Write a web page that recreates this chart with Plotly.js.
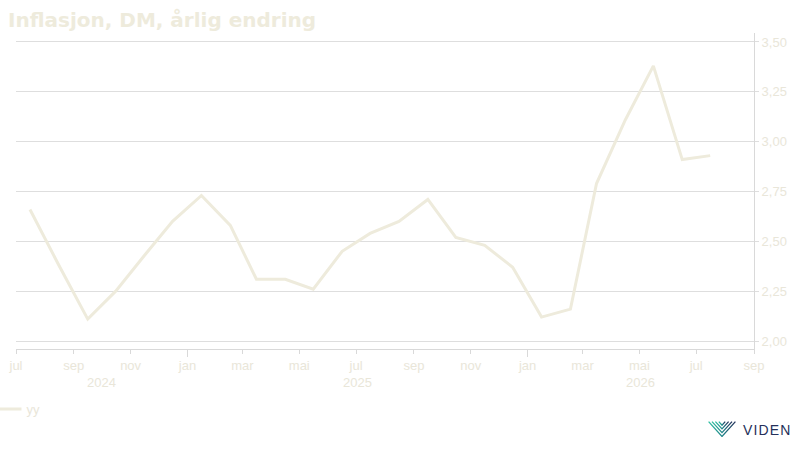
<!DOCTYPE html>
<html>
<head>
<meta charset="utf-8">
<script src="https://cdn.plot.ly/plotly-3.0.1.min.js"></script>
<style>
  html, body { margin: 0; padding: 0; background: #ffffff; }
  #chart { width: 800px; height: 450px; }
</style>
</head>
<body>
<div id="chart"></div>
<script>
// ---- data ----
const dates = [
  '2024-07-16','2024-08-16','2024-09-16','2024-10-16','2024-11-16','2024-12-16',
  '2025-01-16','2025-02-16','2025-03-16','2025-04-16','2025-05-16','2025-06-16',
  '2025-07-16','2025-08-16','2025-09-16','2025-10-16','2025-11-16','2025-12-16',
  '2026-01-16','2026-02-16','2026-03-16','2026-04-16','2026-05-16','2026-06-16',
  '2026-07-16'
];
const yy = [
  2.66, 2.38, 2.11, 2.25, 2.43, 2.60,
  2.73, 2.58, 2.31, 2.31, 2.26, 2.45,
  2.54, 2.60, 2.71, 2.52, 2.48, 2.37,
  2.12, 2.16, 2.79, 3.11, 3.38, 2.91,
  2.93
];
const seriesName = 'yy';
const xTickVals = [
  '2024-07-01','2024-09-01','2024-11-01','2025-01-01','2025-03-01','2025-05-01',
  '2025-07-01','2025-09-01','2025-11-01','2026-01-01','2026-03-01','2026-05-01',
  '2026-07-01','2026-09-01'
];
const xTickText = ['jul','sep','nov','jan','mar','mai','jul','sep','nov','jan','mar','mai','jul','sep'];
const yearTicks = ['2025-01-01','2026-01-01'];
const years = [2024, 2025, 2026];
const xRange = ['2024-07-01','2026-09-01'];
const yRange = [1.96, 3.545];
const yTickVals = [2.00, 2.25, 2.50, 2.75, 3.00, 3.25, 3.50];

// ---- styling ----
const lineColor = '#eeebdc';
const textColor = '#e9e6d9';
const gridColor = '#dedede';
const axisColor = '#d9d9d9';

// year labels centred on the visible part of each year
function yearMid(y) {
  const s = Math.max(new Date(y + '-01-01').getTime(), new Date(xRange[0]).getTime());
  const e = Math.min(new Date((y + 1) + '-01-01').getTime(), new Date(xRange[1]).getTime());
  return new Date((s + e) / 2).toISOString().slice(0, 10);
}
const yearAnnotations = years.map(y => ({
  x: yearMid(y), xref: 'x', y: -0.105, yref: 'paper',
  text: String(y), showarrow: false, xanchor: 'center', yanchor: 'middle',
  font: { family: 'Liberation Sans, Arial, sans-serif', size: 13, color: textColor }
}));

const logoSvg = "<svg xmlns='http://www.w3.org/2000/svg' width='56' height='32' viewBox='0 0 28 16'>" +
  "<defs><linearGradient id='g' x1='0' y1='0' x2='1' y2='0'>" +
  "<stop offset='0' stop-color='#2fc0a2'/><stop offset='0.55' stop-color='#1f7f86'/><stop offset='1' stop-color='#23305a'/>" +
  "</linearGradient></defs><g fill='none' stroke='url(#g)' stroke-width='1.3'>" +
  "<path d='M0.6 0.6 L14 15.4 L27.4 0.6'/><path d='M4 0.6 L14 11.6 L24 0.6'/>" +
  "<path d='M7.4 0.6 L14 7.8 L20.6 0.6'/><path d='M10.8 0.6 L14 4.2 L17.2 0.6'/></g></svg>";

const traces = [
  {
    x: dates, y: yy, name: seriesName, type: 'scatter', mode: 'lines',
    line: { color: lineColor, width: 3 }, hoverinfo: 'x+y'
  },
  {
    x: [xRange[0]], y: [yRange[0]], xaxis: 'x2', yaxis: 'y', type: 'scatter', mode: 'markers',
    marker: { opacity: 0 }, showlegend: false, hoverinfo: 'skip'
  }
];

const layout = {
  width: 800, height: 450,
  paper_bgcolor: '#ffffff', plot_bgcolor: '#ffffff',
  margin: { l: 16, r: 46, t: 33, b: 101, autoexpand: false },
  separators: ',.',
  title: {
    text: '<b>Inflasjon, DM, årlig endring</b>',
    x: 0.01, xref: 'container', xanchor: 'left',
    y: 0.955, yref: 'container', yanchor: 'middle',
    font: { family: 'DejaVu Sans, Verdana, sans-serif', size: 20, color: lineColor }
  },
  xaxis: {
    type: 'date', range: xRange,
    tickvals: xTickVals, ticktext: xTickText,
    ticks: 'outside', ticklen: 4, tickcolor: axisColor, tickwidth: 1,
    showgrid: false, zeroline: false,
    showline: true, linecolor: axisColor, linewidth: 1,
    tickfont: { family: 'Liberation Sans, Arial, sans-serif', size: 13, color: textColor }
  },
  xaxis2: {
    type: 'date', overlaying: 'x', matches: 'x', anchor: 'y',
    tickvals: yearTicks, ticks: 'outside', ticklen: 7, tickcolor: axisColor,
    showticklabels: false, showgrid: false, zeroline: false, showline: false
  },
  yaxis: {
    side: 'right', range: yRange,
    tickvals: yTickVals, tickformat: '.2f',
    ticks: 'outside', ticklen: 4, tickcolor: gridColor,
    showgrid: true, gridcolor: gridColor, gridwidth: 1,
    zeroline: false, showline: true, linecolor: axisColor, linewidth: 1,
    tickfont: { family: 'Liberation Sans, Arial, sans-serif', size: 13, color: textColor }
  },
  showlegend: true,
  legend: {
    x: -0.04, xanchor: 'left', y: -0.19, yanchor: 'middle',
    orientation: 'h', bgcolor: 'rgba(0,0,0,0)',
    font: { family: 'Liberation Sans, Arial, sans-serif', size: 13, color: textColor },
    itemwidth: 30
  },
  annotations: yearAnnotations.concat([
    {
      x: 1.0175, xref: 'paper', y: -0.255, yref: 'paper',
      text: 'V\u200AI\u200AD\u200AE\u200AN', showarrow: false,
      xanchor: 'center', yanchor: 'middle',
      font: { family: 'Liberation Sans, Arial, sans-serif', size: 14, color: '#25305a' }
    }
  ]),
  images: [
    {
      source: 'data:image/svg+xml;charset=utf-8,' + encodeURIComponent(logoSvg),
      xref: 'paper', yref: 'paper',
      x: (708 - 16) / 738, y: -0.228, sizex: 28 / 738, sizey: 16 / 316,
      xanchor: 'left', yanchor: 'top', sizing: 'stretch', layer: 'above'
    }
  ]
};

Plotly.newPlot('chart', traces, layout, { displayModeBar: false, staticPlot: true });
</script>
</body>
</html>
